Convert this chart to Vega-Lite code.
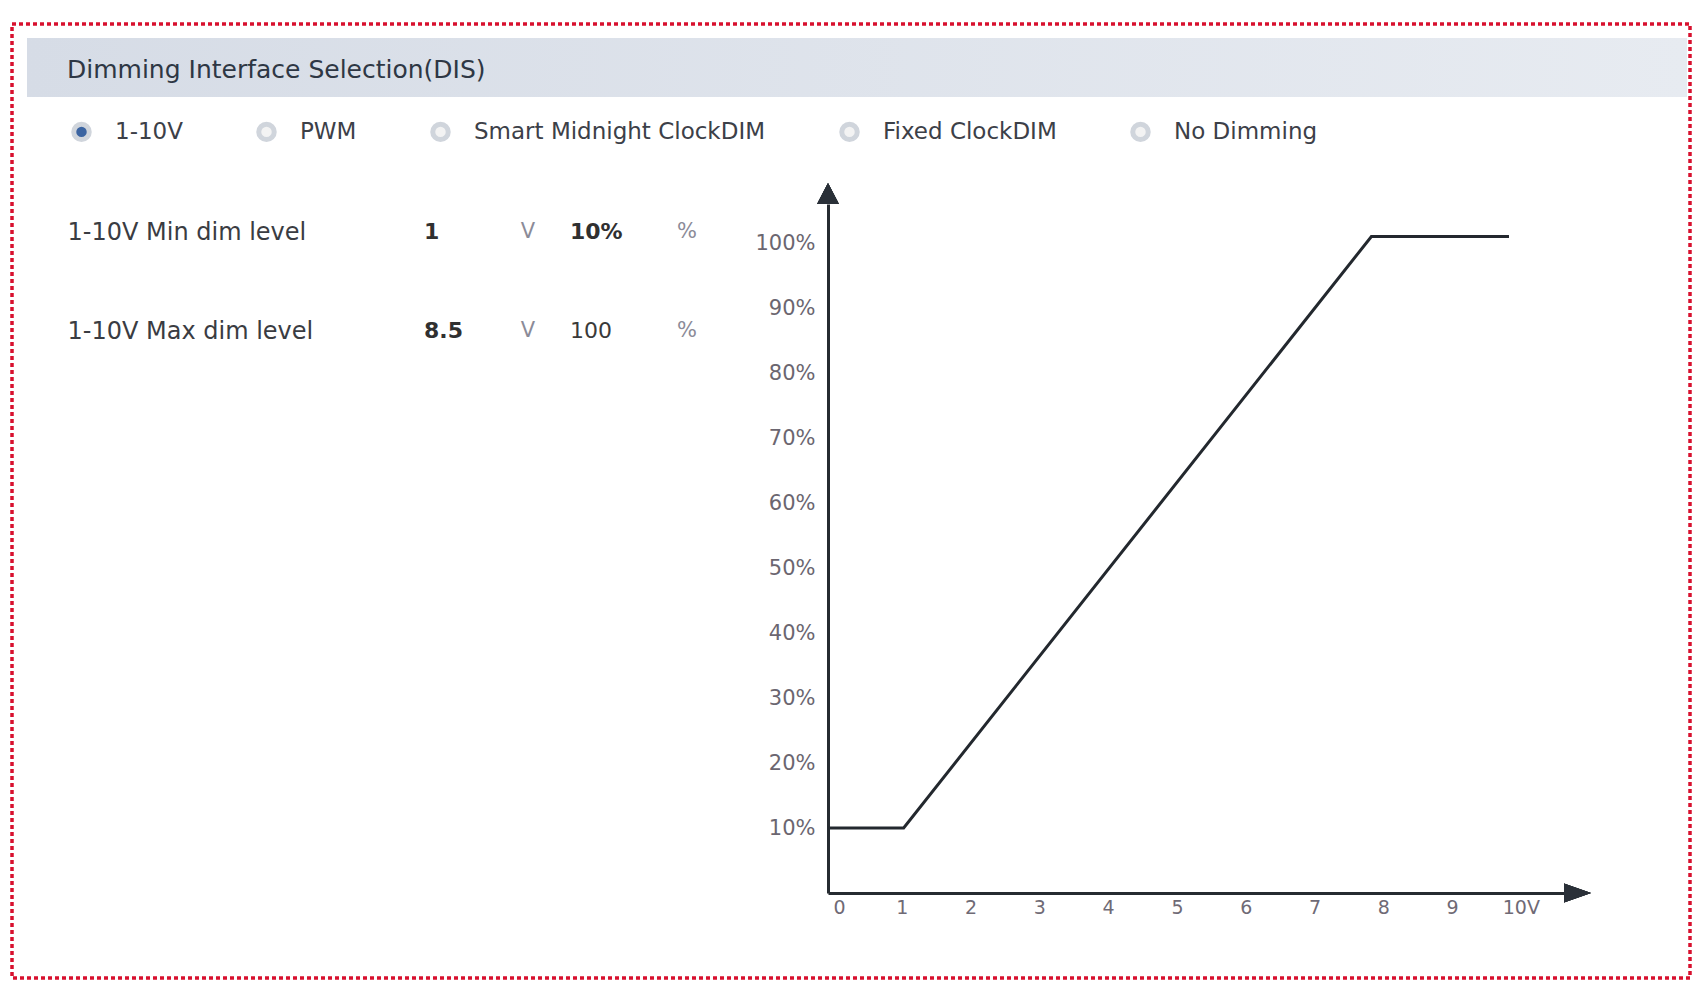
{
  "$schema": "https://vega.github.io/schema/vega-lite/v6.json",
  "width": 1678,
  "height": 954,
  "autosize": {"type": "none"},
  "padding": {"left": 12, "top": 24, "right": 5, "bottom": 6},
  "background": "white",
  "config": {
    "font": "DejaVu Sans",
    "view": {"stroke": "#d8102e", "strokeDash": [4, 3], "strokeWidth": 3.5, "fill": "white"}
  },
  "resolve": {
    "scale": {"x": "independent", "y": "independent", "fill": "independent"},
    "axis": {"x": "independent", "y": "independent"}
  },
  "layer": [
    {
      "data": {"values": [{"section": "Dimming Interface Selection(DIS)"}]},
      "layer": [
        {
          "mark": {"type": "rect", "fill": {"gradient": "linear", "x1": 0, "x2": 1, "y1": 0, "y2": 0, "stops": [{"offset": 0, "color": "#d6dce6"}, {"offset": 1, "color": "#e7ebf1"}]}},
          "encoding": {
            "x": {"field": "section", "type": "nominal", "scale": {"range": [15, 1675], "paddingInner": 0, "paddingOuter": 0}, "axis": null},
            "y": {"field": "section", "type": "nominal", "scale": {"range": [14, 73], "paddingInner": 0, "paddingOuter": 0}, "axis": null}
          }
        },
        {
          "mark": {"type": "text", "align": "left", "baseline": "middle", "dx": 40, "dy": 2, "fontSize": 25, "color": "#2e3744"},
          "encoding": {
            "x": {"field": "section", "type": "nominal", "bandPosition": 0},
            "y": {"field": "section", "type": "nominal"},
            "text": {"field": "section"}
          }
        }
      ]
    },
    {
      "data": {"values": [
        {"option": "1-10V", "selected": true},
        {"option": "PWM", "selected": false},
        {"option": "Smart Midnight ClockDIM", "selected": false},
        {"option": "Fixed ClockDIM", "selected": false},
        {"option": "No Dimming", "selected": false}
      ]},
      "mark": {"type": "point", "filled": true, "opacity": 0},
      "encoding": {
        "fill": {
          "field": "option", "type": "nominal",
          "scale": {"domain": ["1-10V", "PWM", "Smart Midnight ClockDIM", "Fixed ClockDIM", "No Dimming"], "range": ["#3b64a1", "#f3f3f3", "#f3f3f3", "#f3f3f3", "#f3f3f3"]},
          "legend": {
            "orient": "none", "legendX": 58, "legendY": 96, "direction": "horizontal", "columns": 5,
            "title": null, "symbolType": "circle", "symbolSize": 240, "symbolStrokeWidth": 5,
            "symbolStrokeColor": "#d0d5dc", "symbolOpacity": 1, "labelFont": "DejaVu Sans",
            "labelFontSize": 23, "labelColor": "#3c4048", "labelOffset": 22, "columnPadding": 65,
            "padding": 0, "labelLimit": 0
          }
        }
      }
    },
    {
      "data": {"values": [
        {"setting": "1-10V Min dim level", "voltage": "1", "level": "10%"},
        {"setting": "1-10V Max dim level", "voltage": "8.5", "level": "100"}
      ]},
      "layer": [
        {
          "mark": {"type": "text", "align": "left", "baseline": "middle", "fontSize": 22, "fontWeight": "bold", "color": "#303030"},
          "encoding": {
            "x": {"datum": "voltage", "type": "nominal", "scale": {"type": "point", "domain": ["voltage", "level"], "range": [412, 558], "padding": 0}, "axis": null},
            "y": {"field": "setting", "type": "nominal", "scale": {"type": "point", "domain": ["1-10V Min dim level", "1-10V Max dim level"], "range": [208, 307], "padding": 0},
              "axis": {"orient": "right", "offset": -1623, "domain": false, "ticks": false, "tickSize": 0, "grid": false, "title": null, "labelPadding": 0, "labelAlign": "left", "labelBaseline": "middle", "labelFont": "DejaVu Sans", "labelFontSize": 24, "labelColor": "#3a3c42", "labelLimit": 0}},
            "text": {"field": "voltage"}
          }
        },
        {
          "transform": [{"filter": "datum.level !== '100'"}],
          "mark": {"type": "text", "align": "left", "baseline": "middle", "fontSize": 22, "fontWeight": "bold", "color": "#303030"},
          "encoding": {
            "x": {"datum": "level", "type": "nominal"},
            "y": {"field": "setting", "type": "nominal"},
            "text": {"field": "level"}
          }
        },
        {
          "transform": [{"filter": "datum.level === '100'"}],
          "mark": {"type": "text", "align": "left", "baseline": "middle", "fontSize": 22, "color": "#3a3a3a"},
          "encoding": {
            "x": {"datum": "level", "type": "nominal"},
            "y": {"field": "setting", "type": "nominal"},
            "text": {"field": "level"}
          }
        },
        {
          "mark": {"type": "text", "align": "center", "baseline": "middle", "dx": 104, "fontSize": 21, "color": "#8b8b98"},
          "encoding": {
            "x": {"datum": "voltage", "type": "nominal"},
            "y": {"field": "setting", "type": "nominal"},
            "text": {"value": "V"}
          }
        },
        {
          "mark": {"type": "text", "align": "center", "baseline": "middle", "dx": 117, "fontSize": 21, "color": "#8b8b98"},
          "encoding": {
            "x": {"datum": "level", "type": "nominal"},
            "y": {"field": "setting", "type": "nominal"},
            "text": {"value": "%"}
          }
        }
      ]
    },
    {
      "data": {"values": [
        {"voltage": 0, "level": 10},
        {"voltage": 1.1, "level": 10},
        {"voltage": 7.9, "level": 101},
        {"voltage": 9.9, "level": 101}
      ]},
      "layer": [
        {
          "mark": {"type": "line", "color": "#23282e", "strokeWidth": 3},
          "encoding": {
            "x": {"field": "voltage", "type": "quantitative",
              "scale": {"domain": [0, 10.7], "range": [816, 1552], "nice": false, "zero": false},
              "axis": {"orient": "bottom", "offset": -85, "values": [0, 1, 2, 3, 4, 5, 6, 7, 8, 9, 10], "format": "d", "labelExpr": "datum.value === 10 ? '10V' : datum.label", "domainColor": "#262b31", "domainWidth": 3, "ticks": false, "grid": false, "title": null, "labelFont": "DejaVu Sans", "labelFontSize": 19, "labelColor": "#6f6a75", "labelPadding": 5, "labelOffset": 5}},
            "y": {"field": "level", "type": "quantitative",
              "scale": {"domain": [0, 106], "range": [869, 180], "nice": false, "zero": false},
              "axis": {"orient": "left", "offset": -816, "values": [10, 20, 30, 40, 50, 60, 70, 80, 90, 100], "labelExpr": "datum.value + '%'", "domainColor": "#262b31", "domainWidth": 3, "ticks": false, "grid": false, "title": null, "labelFont": "DejaVu Sans", "labelFontSize": 21, "labelColor": "#6b6670", "labelPadding": 13}}
          }
        },
        {
          "mark": {"type": "point", "shape": "M0,-1L0.52,0L-0.52,0Z", "size": 1764, "filled": true, "color": "#2a3038", "opacity": 1},
          "encoding": {
            "x": {"datum": 0, "type": "quantitative"},
            "y": {"datum": 106, "type": "quantitative"}
          }
        },
        {
          "mark": {"type": "point", "shape": "M1,0L0,-0.35L0,0.35Z", "size": 2916, "filled": true, "color": "#2a3038", "opacity": 1},
          "encoding": {
            "x": {"datum": 10.7, "type": "quantitative"},
            "y": {"datum": 0, "type": "quantitative"}
          }
        }
      ]
    }
  ]
}
